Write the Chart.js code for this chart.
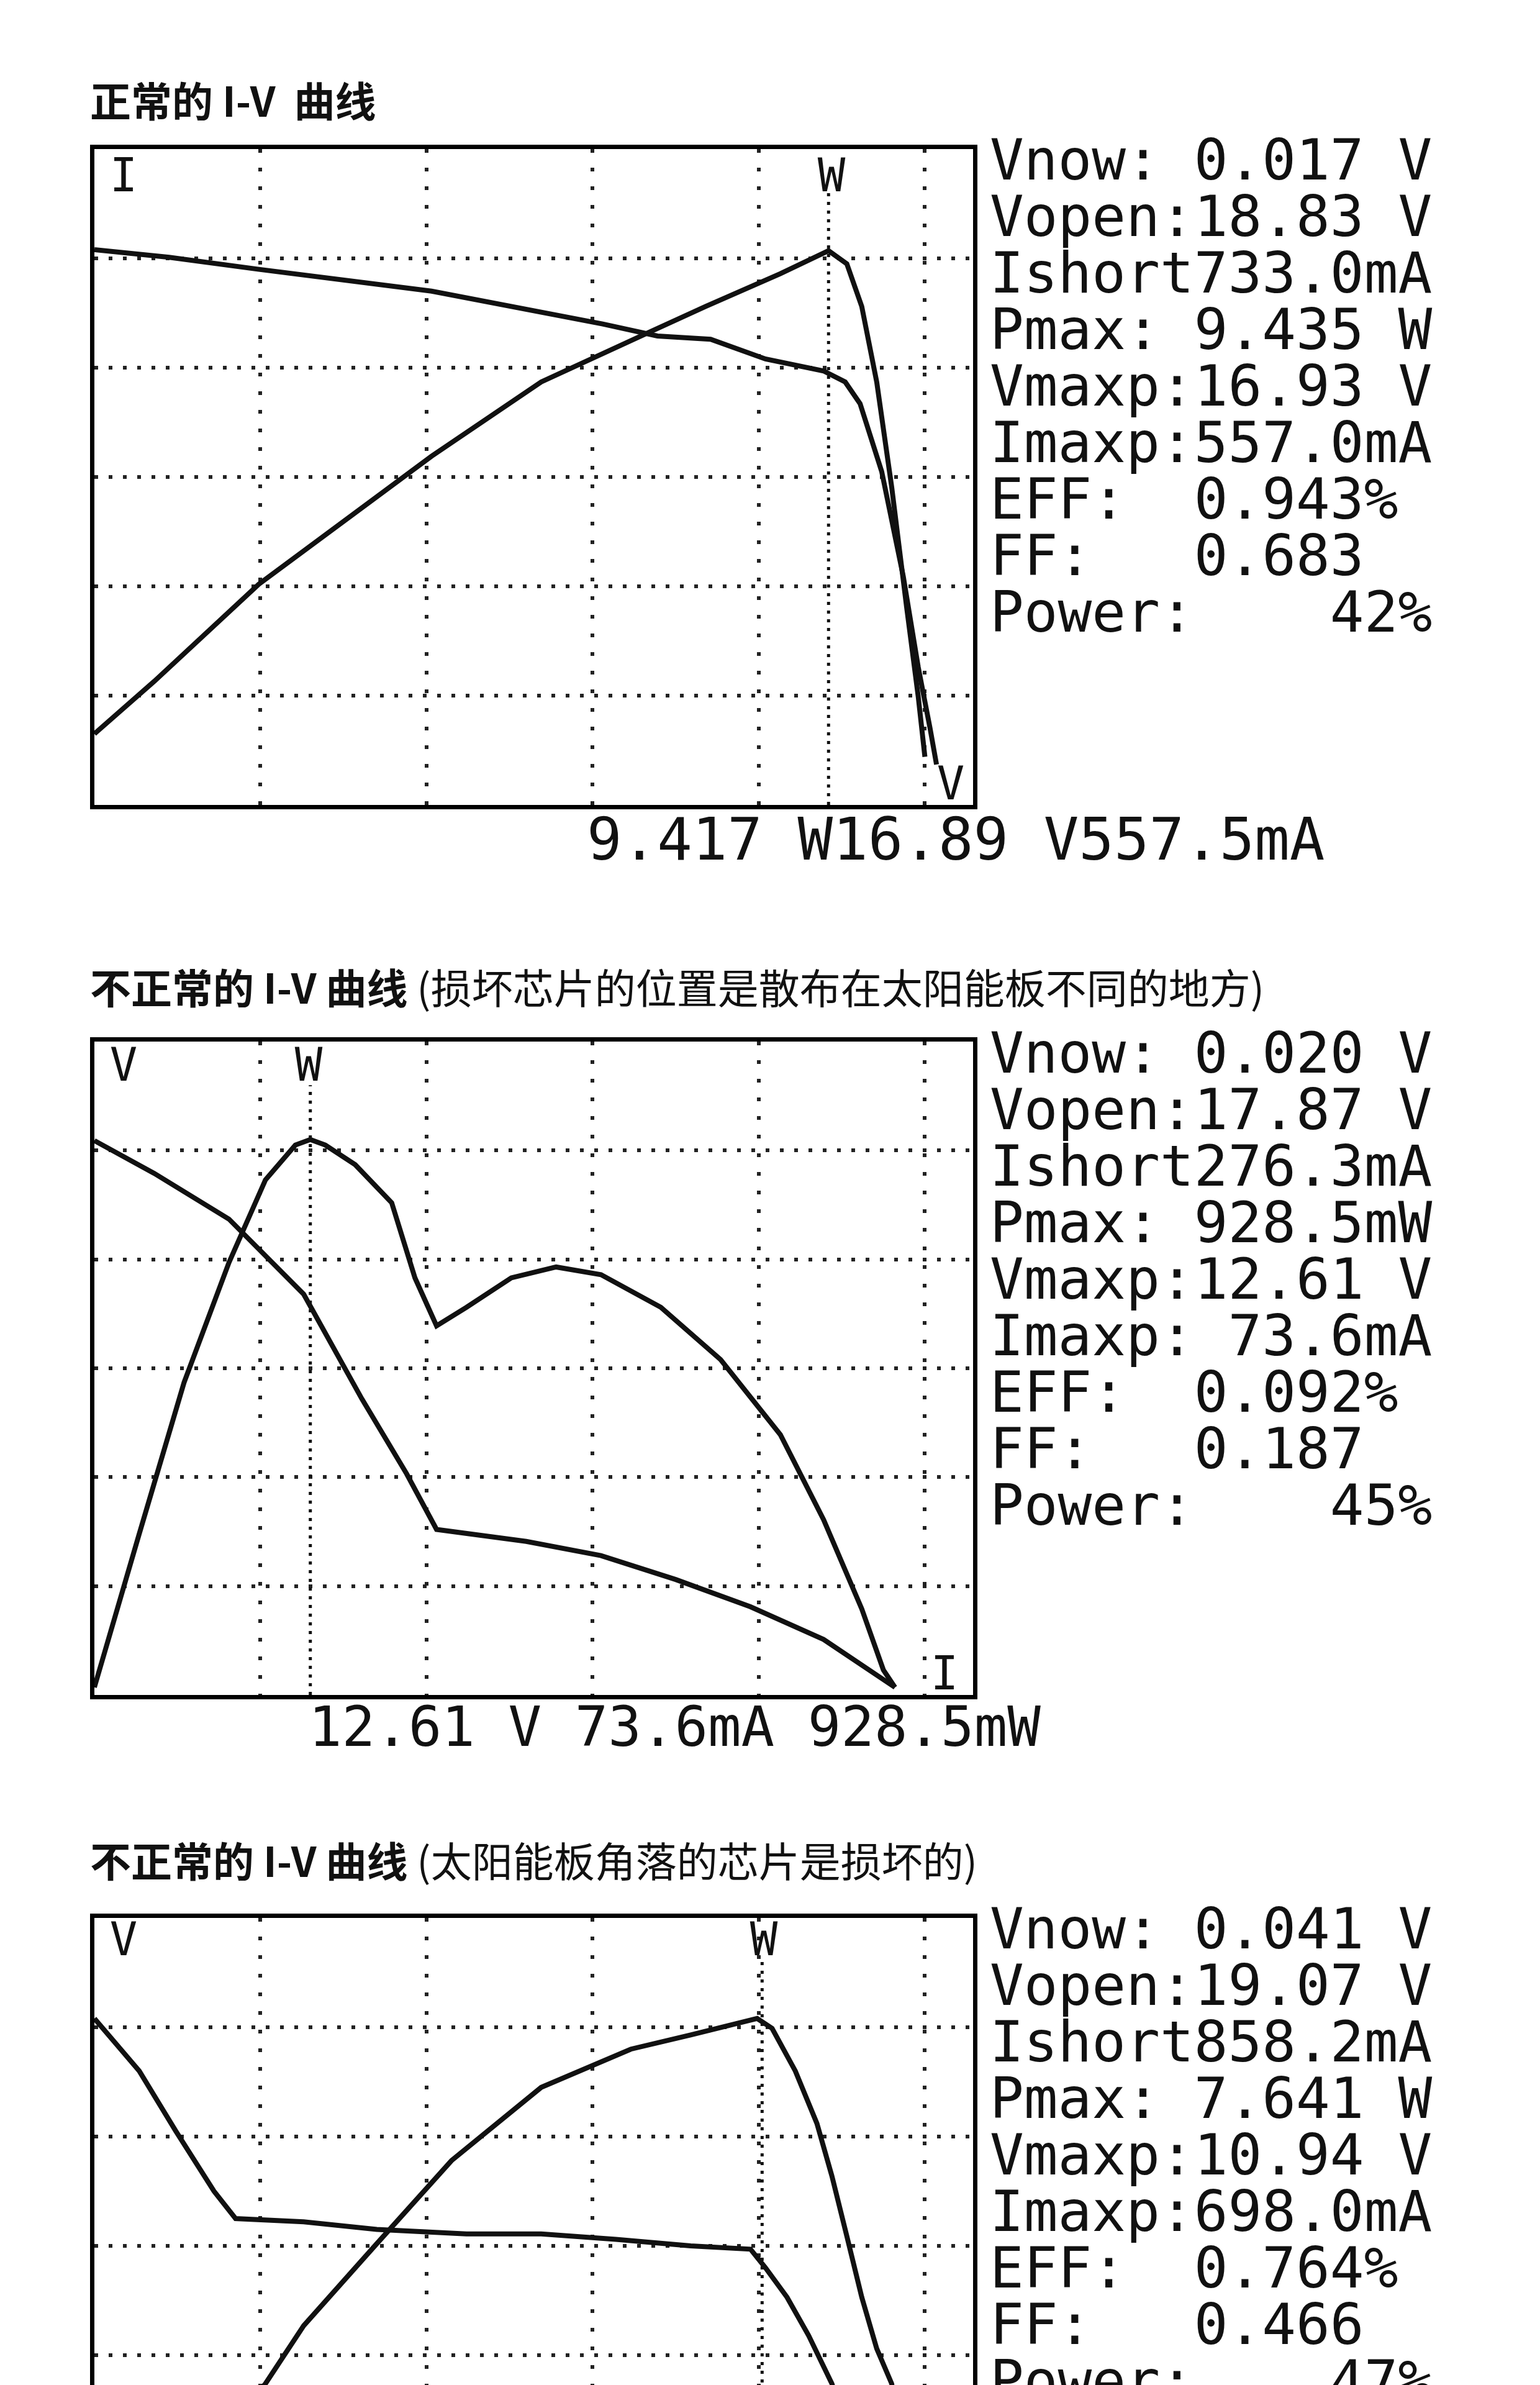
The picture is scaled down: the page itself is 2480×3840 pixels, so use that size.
<!DOCTYPE html>
<html><head><meta charset="utf-8">
<script src="https://cdn.jsdelivr.net/npm/chart.js@4"></script>
<style>
body{margin:0;width:2480px;height:3840px;background:#fff;position:relative;overflow:hidden;font-family:"Noto Sans CJK SC",sans-serif;}
.box{position:absolute;left:145px;width:1429px;border:7px solid #000;box-sizing:border-box;}
.box canvas{display:block;}
.title{position:absolute;left:145px;font-size:66px;line-height:70px;color:#111;white-space:nowrap;}
.title b{font-weight:700;}
.panel{position:absolute;left:1594px;font-family:"DejaVu Sans Mono",monospace;font-size:91px;line-height:91px;white-space:pre;color:#111;}
.read{position:absolute;font-family:"DejaVu Sans Mono",monospace;line-height:91px;white-space:pre;color:#111;}
.lab{position:absolute;font-family:"DejaVu Sans Mono",monospace;font-size:74px;transform:translate(-50%,-50%);color:#111;}
</style></head><body>
<div class="title" style="top:124px"><b>正常的 I-V&nbsp; 曲线</b></div>
<div class="title" style="top:1552px"><b>不正常的 I-V 曲线</b> (损坏芯片的位置是散布在太阳能板不同的地方)</div>
<div class="title" style="top:2958px"><b>不正常的 I-V 曲线</b> (太阳能板角落的芯片是损坏的)</div>

<div class="box" style="top:233px;height:1070px"><canvas id="c1"></canvas></div>
<div class="box" style="top:1670px;height:1066px"><canvas id="c2"></canvas></div>
<div class="box" style="top:3081px;height:1070px"><canvas id="c3"></canvas></div>

<div class="panel" id="p1" style="top:212px"></div>
<div class="panel" id="p2" style="top:1650px"></div>
<div class="panel" id="p3" style="top:3060px"></div>

<div class="read" style="left:945px;top:1306px;font-size:94px">9.417 W16.89 V557.5mA</div>
<div class="read" style="left:497px;top:2735px;font-size:89px">12.61 V 73.6mA 928.5mW</div>

<div class="lab" style="left:199px;top:282px">I</div>
<div class="lab" style="left:1339px;top:282px">W</div>
<div class="lab" style="left:1531px;top:1261px">V</div>
<div class="lab" style="left:199px;top:1714px">V</div>
<div class="lab" style="left:497px;top:1714px">W</div>
<div class="lab" style="left:1521px;top:2694px">I</div>
<div class="lab" style="left:199px;top:3122px">V</div>
<div class="lab" style="left:1230px;top:3122px">W</div>

<script>
// Readouts
const panel1 = ["Vnow: 0.017 V","Vopen:18.83 V","Ishort733.0mA","Pmax: 9.435 W","Vmaxp:16.93 V","Imaxp:557.0mA","EFF:  0.943%","FF:   0.683","Power:    42%"];
const panel2 = ["Vnow: 0.020 V","Vopen:17.87 V","Ishort276.3mA","Pmax: 928.5mW","Vmaxp:12.61 V","Imaxp: 73.6mA","EFF:  0.092%","FF:   0.187","Power:    45%"];
const panel3 = ["Vnow: 0.041 V","Vopen:19.07 V","Ishort858.2mA","Pmax: 7.641 W","Vmaxp:10.94 V","Imaxp:698.0mA","EFF:  0.764%","FF:   0.466","Power:    47%"];

// Curves in screen divisions (x: voltage divisions, y: vertical divisions)
const i1X = [0,0.45,0.99,2.03,3.06,3.39,3.71,4.04,4.39,4.52,4.61,4.74,4.87,4.96,5.03,5.07];
const i1Y = [5.08,5.01,4.9,4.70,4.40,4.29,4.26,4.08,3.97,3.87,3.67,3.05,2.09,1.26,0.71,0.37];
const p1X = [0,0.36,0.99,2.03,2.69,3.32,3.68,4.13,4.42,4.53,4.62,4.71,4.80,4.89,4.96,5.0];
const p1Y = [0.65,1.13,2.02,3.19,3.87,4.31,4.56,4.86,5.07,4.95,4.56,3.87,2.91,1.81,0.99,0.44];
const w1 = 4.42;

const i2X = [0,0.36,0.81,1.26,1.61,1.88,2.06,2.60,3.05,3.5,3.95,4.39,4.82];
const i2Y = [5.09,4.79,4.37,3.68,2.72,2.03,1.52,1.41,1.28,1.06,0.81,0.51,0.07];
const p2X = [0,0.27,0.54,0.81,1.03,1.21,1.30,1.39,1.57,1.79,1.93,2.06,2.24,2.51,2.78,3.05,3.41,3.77,4.13,4.39,4.62,4.75,4.82];
const p2Y = [0.07,1.48,2.87,3.97,4.73,5.05,5.10,5.05,4.87,4.52,3.83,3.39,3.56,3.83,3.93,3.86,3.56,3.08,2.39,1.61,0.79,0.23,0.07];
const w2 = 1.30;

const i3X = [0,0.27,0.49,0.72,0.85,1.26,1.70,2.24,2.69,3.14,3.59,3.95,4.04,4.17,4.30,4.44,4.6,4.75,4.8];
const i3Y = [5.08,4.60,4.05,3.50,3.25,3.22,3.15,3.11,3.11,3.06,3.0,2.97,2.80,2.53,2.18,1.74,1.0,0.3,0.05];
const p3X = [0,0.4,1.03,1.26,1.70,2.15,2.69,3.23,3.59,3.99,4.08,4.22,4.35,4.44,4.53,4.62,4.71,4.80,4.88,4.95];
const p3Y = [0,0.6,1.74,2.27,3.02,3.78,4.45,4.80,4.93,5.08,4.99,4.60,4.12,3.64,3.09,2.53,2.06,1.74,1.0,0.2];
const w3 = 4.02;

document.getElementById('p1').textContent = panel1.join('\n');
document.getElementById('p2').textContent = panel2.join('\n');
document.getElementById('p3').textContent = panel3.join('\n');

const pts = (xs, ys) => xs.map((x, i) => ({x, y: ys[i]}));

function make(id, iX, iY, pX, pY, w) {
  const cv = document.getElementById(id);
  const box = cv.parentElement;
  cv.width = box.clientWidth; cv.height = box.clientHeight;
  const line = {borderColor:'#111', borderWidth:8, pointRadius:0, tension:0, fill:false};
  new Chart(cv, {
    type:'scatter',
    data:{datasets:[
      Object.assign({data:pts(iX,iY), showLine:true}, line),
      Object.assign({data:pts(pX,pY), showLine:true}, line),
      {data:[{x:w,y:0},{x:w,y:5.6}], showLine:true, borderColor:'#111', borderWidth:5, borderDash:[5,9], pointRadius:0}
    ]},
    options:{
      responsive:false, animation:false, devicePixelRatio:1,
      layout:{padding:{left:-4,right:0,top:0,bottom:-4}},
      plugins:{legend:{display:false}, tooltip:{enabled:false}},
      scales:{
        x:{type:'linear', min:0, max:5.29, ticks:{display:false}, border:{display:false, dash:[6,24]},
           grid:{drawTicks:false, lineWidth:6, color:'#222'},
           afterBuildTicks:s=>{s.ticks=[1,2,3,4,5].map(v=>({value:v}));}},
        y:{type:'linear', min:0, max:6, ticks:{display:false}, border:{display:false, dash:[6,17]},
           grid:{drawTicks:false, lineWidth:6, color:'#222'},
           afterBuildTicks:s=>{s.ticks=[1,2,3,4,5].map(v=>({value:v}));}}
      }
    }
  });
}
make('c1', i1X, i1Y, p1X, p1Y, w1);
make('c2', i2X, i2Y, p2X, p2Y, w2);
make('c3', i3X, i3Y, p3X, p3Y, w3);
</script>
</body></html>
